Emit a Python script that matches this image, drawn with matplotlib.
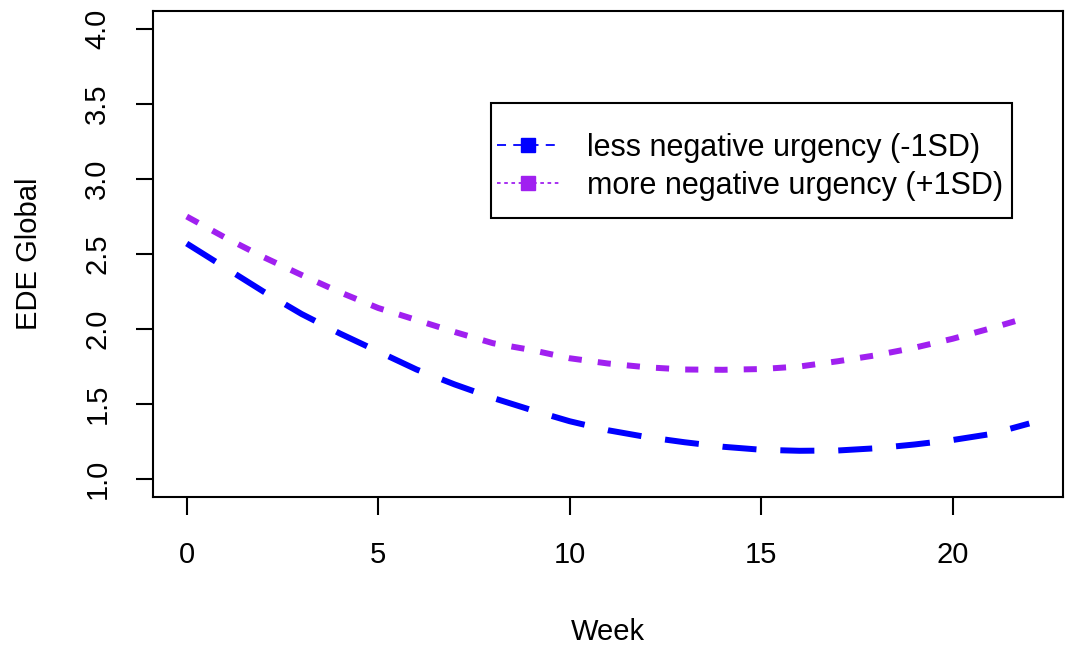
import matplotlib
matplotlib.use("Agg")
import matplotlib.pyplot as plt
from matplotlib.lines import Line2D
from matplotlib.patches import Rectangle

plt.rcParams['font.family'] = ['Liberation Sans', 'DejaVu Sans']

# values, one per week
weeks = list(range(0, 23))
less_neg = [2.57, 2.41, 2.25, 2.10, 1.97, 1.85, 1.73, 1.63, 1.54, 1.46, 1.385,
            1.325, 1.28, 1.245, 1.215, 1.195, 1.188, 1.19, 1.205, 1.23, 1.26,
            1.30, 1.37]
more_neg = [2.75, 2.61, 2.48, 2.36, 2.245, 2.14, 2.06, 1.98, 1.905, 1.86, 1.805,
            1.77, 1.745, 1.73, 1.728, 1.733, 1.75, 1.785, 1.825, 1.875, 1.935,
            2.005, 2.08]
labels = ["less negative urgency (-1SD)", "more negative urgency (+1SD)"]
blue = "#0000FF"
purple = "#A020F0"

fig = plt.figure(figsize=(10.65, 6.51), dpi=100)
ax = fig.add_axes([153 / 1065, 1 - 497 / 651, (1063 - 153) / 1065, (497 - 11) / 651])

l1, = ax.plot(weeks, less_neg, color=blue, lw=4.3, dash_capstyle='butt')
l1.set_dashes((5.7, 4.0))
l2, = ax.plot(weeks, more_neg, color=purple, lw=4.3, dash_capstyle='butt')
l2.set_dashes((2.2, 2.7))

ax.set_xlim(-0.88, 22.88)
ax.set_ylim(0.88, 4.12)
ax.set_xticks([0, 5, 10, 15, 20])
ax.set_yticks([1.0, 1.5, 2.0, 2.5, 3.0, 3.5, 4.0])
ax.set_yticklabels(["1.0", "1.5", "2.0", "2.5", "3.0", "3.5", "4.0"],
                   rotation=90, va='center')
ax.tick_params(axis='x', length=13, width=1.5, pad=19, labelsize=21)
ax.tick_params(axis='y', length=12, width=1.5, pad=18, labelsize=21)
for s in ax.spines.values():
    s.set_linewidth(1.5)

ax.set_xlabel("Week", fontsize=21, labelpad=35)
ax.set_ylabel("EDE Global", fontsize=21, labelpad=29)

# legend box drawn like R's, entries placed inside it
ax.add_patch(Rectangle((7.95, 2.743), 21.54 - 7.95, 3.505 - 2.743, fill=False,
                       edgecolor='black', lw=1.5, zorder=4))
handles = [
    Line2D([], [], color=blue, lw=1.3, dashes=(5, 4), marker='s', markersize=10),
    Line2D([], [], color=purple, lw=1.3, dashes=(2, 2), marker='s', markersize=10),
]
leg = ax.legend(handles, labels, loc='center left',
                bbox_to_anchor=(8.1, 3.08), bbox_transform=ax.transData,
                borderaxespad=0, borderpad=0, fontsize=22, frameon=False,
                handlelength=2.06, handletextpad=0.88, labelspacing=0.25)

fig.savefig("out.png", dpi=100)
